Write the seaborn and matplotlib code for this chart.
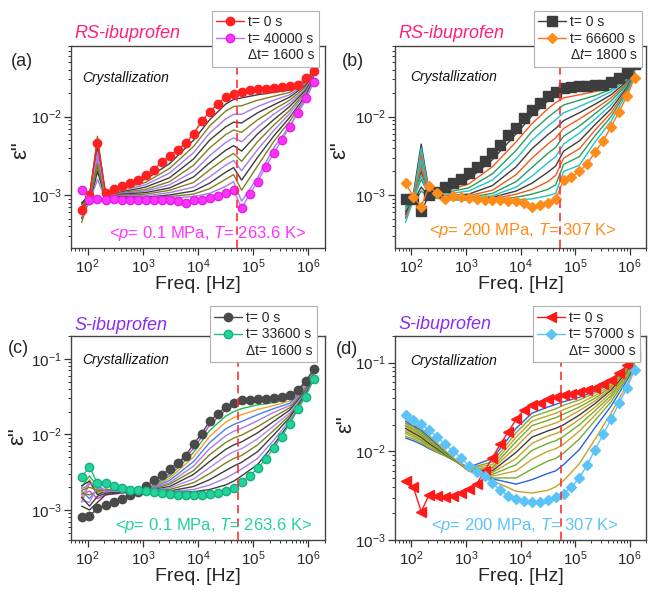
import numpy as np
import pandas as pd
import seaborn as sns
import matplotlib.pyplot as plt
from matplotlib.lines import Line2D
from matplotlib.ticker import LogLocator, NullFormatter

# Set aesthetic style
sns.set_theme(style="ticks")
plt.rcParams['font.family'] = ['Liberation Sans', 'DejaVu Sans']
plt.rcParams['mathtext.fontset'] = 'custom'
plt.rcParams['mathtext.rm'] = 'Liberation Sans'
plt.rcParams['mathtext.it'] = 'Liberation Sans:italic'
plt.rcParams['mathtext.bf'] = 'Liberation Sans:bold'

# ---- Data (eps'' stored as log10 values) ----
freq = [78, 108, 151, 211, 295, 412, 575, 804, 1120, 1570, 2190, 3060, 4270, 5960, 8320,
        11600, 16200, 22600, 31600, 44200, 61700, 86100, 120000, 168000, 234000, 327000,
        457000, 638000, 891000, 1240000]
freq_mid = [78, 108, 151, 211, 412, 1120, 3060, 8320, 16200, 31600, 44200, 61700,
            120000, 234000, 457000, 891000, 1240000]

# (a) RS-ibuprofen, 0.1 MPa
a_start = [-3.19, -3.00, -2.33, -2.97, -2.93, -2.88, -2.85, -2.81, -2.74, -2.68, -2.58, -2.50,
           -2.42, -2.34, -2.22, -2.06, -1.94, -1.84, -1.75, -1.71, -1.68, -1.66, -1.65, -1.64,
           -1.63, -1.62, -1.61, -1.59, -1.51, -1.42]
a_end = [-2.94, -3.06, -3.05, -3.06, -3.05, -3.06, -3.07, -3.07, -3.07, -3.07, -3.07, -3.07,
         -3.08, -3.10, -3.07, -3.06, -3.04, -3.01, -2.98, -2.94, -3.17, -2.99, -2.83, -2.64,
         -2.47, -2.30, -2.13, -1.95, -1.76, -1.56]
a_mid = [
    [-3.10, -3.00, -2.40, -2.98, -2.90, -2.80, -2.60, -2.30, -2.04, -1.84, -1.78, -1.76, -1.72, -1.69, -1.66, -1.55, -1.44],
    [-3.15, -3.02, -2.30, -2.99, -2.92, -2.84, -2.66, -2.38, -2.12, -1.93, -1.87, -1.86, -1.79, -1.74, -1.69, -1.57, -1.45],
    [-3.20, -3.05, -2.50, -3.00, -2.94, -2.87, -2.72, -2.46, -2.21, -2.03, -1.97, -1.97, -1.87, -1.79, -1.72, -1.58, -1.46],
    [-3.12, -2.98, -2.60, -3.01, -2.96, -2.90, -2.78, -2.54, -2.30, -2.13, -2.07, -2.08, -1.95, -1.85, -1.75, -1.60, -1.47],
    [-3.25, -3.04, -2.25, -3.02, -2.97, -2.93, -2.83, -2.62, -2.40, -2.23, -2.17, -2.20, -2.04, -1.91, -1.79, -1.62, -1.48],
    [-3.18, -3.10, -2.55, -3.03, -2.98, -2.95, -2.87, -2.70, -2.50, -2.33, -2.27, -2.32, -2.13, -1.97, -1.83, -1.64, -1.49],
    [-3.30, -3.06, -2.35, -3.04, -2.99, -2.97, -2.91, -2.77, -2.59, -2.43, -2.37, -2.44, -2.22, -2.04, -1.87, -1.66, -1.50],
    [-3.22, -3.02, -2.65, -3.04, -3.00, -2.99, -2.94, -2.84, -2.68, -2.53, -2.47, -2.57, -2.32, -2.11, -1.92, -1.68, -1.51],
    [-3.28, -3.08, -2.45, -3.05, -3.01, -3.01, -2.97, -2.90, -2.77, -2.62, -2.56, -2.69, -2.42, -2.18, -1.96, -1.70, -1.52],
    [-3.15, -3.12, -2.70, -3.05, -3.02, -3.03, -3.00, -2.95, -2.85, -2.71, -2.65, -2.81, -2.52, -2.25, -2.01, -1.73, -1.53],
    [-3.35, -3.04, -2.60, -3.06, -3.03, -3.04, -3.02, -2.99, -2.92, -2.80, -2.74, -2.94, -2.63, -2.32, -2.06, -1.76, -1.55],
    [-3.20, -3.10, -2.80, -3.06, -3.04, -3.05, -3.04, -3.02, -2.98, -2.89, -2.83, -3.08, -2.78, -2.40, -2.12, -1.79, -1.56],
]

# (b) RS-ibuprofen, 200 MPa
b_start = [-3.05, -3.05, -3.21, -3.00, -2.96, -2.90, -2.85, -2.79, -2.72, -2.64, -2.56, -2.46,
           -2.36, -2.24, -2.15, -2.02, -1.91, -1.82, -1.74, -1.68, -1.63, -1.62, -1.61, -1.61,
           -1.60, -1.59, -1.56, -1.50, -1.44, -1.33]
b_end = [-2.85, -3.02, -3.15, -2.89, -2.98, -3.05, -3.01, -3.03, -3.04, -3.05, -3.06, -3.06,
         -3.07, -3.08, -3.08, -3.10, -3.15, -3.13, -3.10, -3.05, -2.81, -2.77, -2.70, -2.60,
         -2.45, -2.31, -2.13, -1.94, -1.74, -1.50]
b_mid = [
    [-3.05, -3.00, -2.35, -2.95, -2.92, -2.80, -2.55, -2.22, -1.99, -1.80, -1.72, -1.68, -1.66, -1.64, -1.59, -1.47, -1.36],
    [-3.10, -3.02, -2.45, -2.97, -2.95, -2.86, -2.64, -2.32, -2.09, -1.90, -1.82, -1.76, -1.72, -1.68, -1.62, -1.49, -1.37],
    [-3.20, -3.05, -2.60, -2.98, -2.97, -2.91, -2.73, -2.43, -2.19, -2.01, -1.93, -1.85, -1.79, -1.73, -1.65, -1.51, -1.38],
    [-3.15, -3.08, -2.40, -2.99, -2.99, -2.95, -2.81, -2.54, -2.30, -2.12, -2.04, -1.95, -1.87, -1.78, -1.68, -1.53, -1.39],
    [-3.25, -3.03, -2.70, -3.00, -3.01, -2.99, -2.88, -2.64, -2.41, -2.23, -2.15, -2.05, -1.95, -1.84, -1.72, -1.55, -1.40],
    [-3.12, -3.10, -2.50, -3.00, -3.02, -3.01, -2.94, -2.74, -2.53, -2.35, -2.27, -2.15, -2.03, -1.90, -1.76, -1.57, -1.41],
    [-3.30, -3.06, -2.80, -3.01, -3.03, -3.03, -2.98, -2.83, -2.65, -2.47, -2.39, -2.25, -2.12, -1.96, -1.80, -1.59, -1.42],
    [-3.18, -3.04, -2.55, -3.01, -3.04, -3.05, -3.01, -2.90, -2.76, -2.59, -2.51, -2.35, -2.21, -2.03, -1.85, -1.61, -1.43],
    [-3.22, -3.09, -2.90, -3.02, -3.04, -3.06, -3.03, -2.95, -2.85, -2.71, -2.63, -2.44, -2.31, -2.10, -1.90, -1.63, -1.44],
    [-3.28, -3.05, -2.65, -3.02, -3.05, -3.06, -3.05, -2.99, -2.93, -2.83, -2.75, -2.53, -2.41, -2.17, -1.95, -1.65, -1.45],
    [-3.15, -3.11, -2.95, -3.03, -3.05, -3.07, -3.06, -3.03, -2.99, -2.93, -2.87, -2.61, -2.51, -2.24, -2.00, -1.67, -1.46],
    [-3.35, -3.07, -2.75, -3.03, -3.06, -3.07, -3.07, -3.06, -3.05, -3.01, -2.98, -2.70, -2.62, -2.32, -2.06, -1.70, -1.48],
]

# (c) S-ibuprofen, 0.1 MPa
c_start = [-3.10, -3.08, -2.98, -2.94, -2.90, -2.85, -2.80, -2.76, -2.69, -2.61, -2.54, -2.46,
           -2.38, -2.28, -2.13, -1.99, -1.83, -1.73, -1.64, -1.58, -1.55, -1.54, -1.53, -1.53,
           -1.52, -1.51, -1.48, -1.41, -1.30, -1.14]
c_end = [-2.56, -2.43, -2.65, -2.65, -2.68, -2.71, -2.73, -2.74, -2.75, -2.76, -2.78, -2.79,
         -2.80, -2.80, -2.80, -2.80, -2.79, -2.77, -2.75, -2.71, -2.63, -2.55, -2.45, -2.33,
         -2.18, -2.03, -1.86, -1.66, -1.50, -1.27]
c_mid = [
    [-2.80, -2.75, -2.85, -2.80, -2.78, -2.74, -2.52, -2.19, -1.88, -1.68, -1.62, -1.59, -1.56, -1.54, -1.50, -1.33, -1.16],
    [-2.70, -2.55, -2.70, -2.75, -2.77, -2.74, -2.55, -2.24, -1.95, -1.76, -1.70, -1.66, -1.61, -1.58, -1.53, -1.35, -1.17],
    [-2.85, -2.60, -2.78, -2.72, -2.76, -2.74, -2.58, -2.30, -2.03, -1.84, -1.78, -1.74, -1.67, -1.62, -1.56, -1.36, -1.18],
    [-2.75, -2.85, -2.72, -2.74, -2.75, -2.74, -2.61, -2.36, -2.11, -1.93, -1.87, -1.83, -1.74, -1.66, -1.59, -1.38, -1.19],
    [-2.90, -2.65, -2.68, -2.76, -2.76, -2.74, -2.64, -2.42, -2.19, -2.02, -1.96, -1.92, -1.82, -1.71, -1.62, -1.40, -1.20],
    [-2.78, -2.80, -2.76, -2.73, -2.75, -2.75, -2.66, -2.48, -2.27, -2.11, -2.05, -2.01, -1.90, -1.77, -1.65, -1.41, -1.21],
    [-2.68, -2.62, -2.80, -2.75, -2.76, -2.75, -2.69, -2.53, -2.36, -2.20, -2.14, -2.10, -1.98, -1.83, -1.68, -1.43, -1.22],
    [-2.88, -2.90, -2.70, -2.77, -2.76, -2.75, -2.71, -2.59, -2.44, -2.29, -2.23, -2.19, -2.06, -1.89, -1.72, -1.44, -1.23],
    [-2.74, -2.70, -2.74, -2.74, -2.75, -2.75, -2.73, -2.64, -2.52, -2.38, -2.32, -2.28, -2.14, -1.95, -1.75, -1.46, -1.24],
    [-2.83, -2.95, -2.82, -2.78, -2.76, -2.75, -2.75, -2.69, -2.60, -2.48, -2.42, -2.37, -2.23, -2.01, -1.78, -1.47, -1.25],
    [-2.72, -2.66, -2.66, -2.75, -2.76, -2.75, -2.76, -2.73, -2.67, -2.58, -2.52, -2.46, -2.32, -2.08, -1.82, -1.48, -1.26],
    [-2.95, -3.00, -2.90, -2.80, -2.77, -2.75, -2.77, -2.76, -2.73, -2.67, -2.62, -2.55, -2.40, -2.14, -1.85, -1.49, -1.27],
]

# (d) S-ibuprofen, 200 MPa
d_start = [-2.34, -2.40, -2.68, -2.49, -2.50, -2.51, -2.50, -2.47, -2.42, -2.37, -2.22, -2.07,
           -1.92, -1.78, -1.64, -1.53, -1.48, -1.45, -1.41, -1.39, -1.37, -1.35, -1.33, -1.31,
           -1.28, -1.24, -1.19, -1.12, -1.03, -0.92]
d_end = [-1.59, -1.65, -1.69, -1.76, -1.84, -1.92, -2.00, -2.07, -2.16, -2.23, -2.28, -2.36,
         -2.44, -2.50, -2.54, -2.56, -2.57, -2.57, -2.55, -2.52, -2.48, -2.40, -2.30, -2.15,
         -1.98, -1.81, -1.64, -1.46, -1.29, -1.08]
d_mid = [
    [-1.85, -1.88, -1.92, -1.97, -2.05, -2.18, -2.08, -1.74, -1.57, -1.50, -1.47, -1.44, -1.39, -1.32, -1.22, -1.06, -0.94],
    [-1.83, -1.86, -1.90, -1.96, -2.05, -2.19, -2.12, -1.79, -1.61, -1.55, -1.52, -1.48, -1.42, -1.34, -1.23, -1.07, -0.95],
    [-1.80, -1.84, -1.88, -1.95, -2.04, -2.19, -2.15, -1.84, -1.66, -1.60, -1.57, -1.53, -1.46, -1.37, -1.25, -1.08, -0.95],
    [-1.78, -1.82, -1.87, -1.93, -2.04, -2.20, -2.18, -1.89, -1.71, -1.65, -1.62, -1.58, -1.50, -1.40, -1.27, -1.09, -0.96],
    [-1.76, -1.80, -1.85, -1.92, -2.03, -2.20, -2.20, -1.95, -1.77, -1.71, -1.68, -1.64, -1.54, -1.43, -1.29, -1.10, -0.96],
    [-1.74, -1.79, -1.84, -1.91, -2.03, -2.21, -2.22, -2.01, -1.84, -1.77, -1.74, -1.70, -1.59, -1.46, -1.31, -1.11, -0.97],
    [-1.72, -1.77, -1.82, -1.89, -2.02, -2.21, -2.24, -2.08, -1.91, -1.83, -1.80, -1.76, -1.64, -1.50, -1.34, -1.12, -0.98],
    [-1.71, -1.75, -1.81, -1.88, -2.02, -2.22, -2.26, -2.15, -1.99, -1.91, -1.88, -1.83, -1.70, -1.54, -1.37, -1.13, -0.99],
    [-1.69, -1.74, -1.79, -1.87, -2.01, -2.22, -2.28, -2.22, -2.09, -2.00, -1.97, -1.92, -1.77, -1.59, -1.40, -1.15, -1.00],
    [-1.68, -1.72, -1.78, -1.86, -2.01, -2.22, -2.30, -2.30, -2.20, -2.11, -2.08, -2.02, -1.86, -1.65, -1.44, -1.17, -1.02],
    [-1.66, -1.71, -1.76, -1.84, -2.00, -2.22, -2.31, -2.37, -2.32, -2.25, -2.22, -2.15, -1.98, -1.73, -1.49, -1.20, -1.04],
    [-1.64, -1.69, -1.74, -1.82, -1.99, -2.22, -2.33, -2.45, -2.47, -2.44, -2.40, -2.33, -2.14, -1.86, -1.57, -1.25, -1.06],
]

dash_freq = {'a': 5.1e4, 'b': 5.2e4, 'c': 5.3e4, 'd': 5.5e4}

# ---- Styles ----
GRAY, OLIVE, VIOLET = '#3d3d3d', '#80801f', '#a77bea'
a_colors = [GRAY, OLIVE, VIOLET] * 4
b_colors = [GRAY, '#f05a1e', '#2a9d5c', '#1fc4c9'] * 3
c_colors = ['#e03ce0', '#1fbf4f', '#f0a030', '#4a7ff0', VIOLET, OLIVE,
            GRAY, '#b088f0', OLIVE, GRAY, VIOLET, GRAY]
d_colors = ['#2f5fe0', '#7fb030', '#c9a227', '#6fae2e', '#c9a227', GRAY,
            '#c9a227', '#6fae2e', '#c9a227', '#6fae2e', '#2b62e3', '#c9a227']

RS_COLOR = '#ff1f7a'
S_COLOR = '#8a2cf0'

panels = [
    dict(key='a', pos=[71 / 648, 1 - 248 / 595, 254 / 648, 202 / 595], ylim=(2.1e-4, 8e-2),
         start=a_start, end=a_end, mid=a_mid, colors=a_colors,
         s_style=dict(color='#ff2020', marker='o', ms=6, mec='#ff2020'),
         e_style=dict(color='#c070ff', marker='o', ms=6, mfc='#ff33ff', mec='#e020e0'),
         labels=['t= 0 s', 't= 40000 s', 'Δt= 1600 s'],
         title='RS-ibuprofen', tcolor=RS_COLOR,
         cond=r'<$\mathit{p}$= 0.1 MPa, $\mathit{T}$= 263.6 K>', ccolor='#ff33ff',
         cond_xy=(0.537, 0.074), cry_xy=(0.045, 0.84), tag_xy=(-0.193, 0.922),
         ylab_xy=(-0.157, 0.485), leg=(0.975, 1.175), title_y=1.064),
    dict(key='b', pos=[395 / 648, 1 - 248 / 595, 251 / 648, 202 / 595], ylim=(2.1e-4, 8e-2),
         start=b_start, end=b_end, mid=b_mid, colors=b_colors,
         s_style=dict(color='#3d3d3d', marker='s', ms=6.5, mec='#3d3d3d'),
         e_style=dict(color='#ff7020', marker='D', ms=5.5, mfc='#ff8c1a', mec='#ff8c1a'),
         labels=['t= 0 s', 't= 66600 s', r'Δ$\mathit{t}$= 1800 s'],
         title='RS-ibuprofen', tcolor=RS_COLOR,
         cond=r'<$\mathit{p}$= 200 MPa, $\mathit{T}$= 307 K>', ccolor='#ff8c1a',
         cond_xy=(0.511, 0.089), cry_xy=(0.06, 0.848), tag_xy=(-0.169, 0.922),
         ylab_xy=(-0.18, 0.485), leg=(0.985, 1.175), title_y=1.064),
    dict(key='c', pos=[71 / 648, 1 - 540 / 595, 254 / 648, 204 / 595], ylim=(4e-4, 0.2),
         start=c_start, end=c_end, mid=c_mid, colors=c_colors,
         s_style=dict(color='#4a4a4a', marker='o', ms=6, mec='#4a4a4a'),
         e_style=dict(color='#22c080', marker='o', ms=6, mfc='#22d39a', mec='#16b080'),
         labels=['t= 0 s', 't= 33600 s', 'Δt= 1600 s'],
         title='S-ibuprofen', tcolor=S_COLOR,
         cond=r'<$\mathit{p}$= 0.1 MPa, $\mathit{T}$= 263.6 K>', ccolor='#22d39a',
         cond_xy=(0.561, 0.073), cry_xy=(0.045, 0.88), tag_xy=(-0.205, 0.938),
         ylab_xy=(-0.17, 0.51), leg=(0.967, 1.145), title_y=1.052),
    dict(key='d', pos=[395 / 648, 1 - 540 / 595, 251 / 648, 204 / 595], ylim=(1e-3, 0.2),
         start=d_start, end=d_end, mid=d_mid, colors=d_colors,
         s_style=dict(color='#ff1a1a', marker='<', ms=7, mec='#ff1a1a'),
         e_style=dict(color='#5cc3f7', marker='D', ms=5.5, mfc='#5cc3f7', mec='#5cc3f7'),
         labels=['t= 0 s', 't= 57000 s', 'Δt= 3000 s'],
         title='S-ibuprofen', tcolor=S_COLOR,
         cond=r'<$\mathit{p}$= 200 MPa, $\mathit{T}$= 307 K>', ccolor='#5cc3f7',
         cond_xy=(0.518, 0.073), cry_xy=(0.062, 0.877), tag_xy=(-0.19, 0.933),
         ylab_xy=(-0.153, 0.57), leg=(0.975, 1.145), title_y=1.056),
]

fig = plt.figure(figsize=(6.48, 5.95), dpi=100)

for p in panels:
    ax = fig.add_axes(p['pos'])
    ax.set_xscale('log')
    ax.set_yscale('log')

    # intermediate spectra (long format for seaborn)
    rows = []
    for i, curve in enumerate(p['mid']):
        for f, v in zip(freq_mid, curve):
            rows.append({'freq': f, 'eps': 10 ** v, 'curve': f'c{i}'})
    mid_df = pd.DataFrame(rows)
    sns.lineplot(data=mid_df, x='freq', y='eps', hue='curve', palette=p['colors'],
                 estimator=None, sort=False, legend=False, lw=1.0, ax=ax, zorder=2)

    # first and last spectra
    h_start, = ax.plot(freq, 10 ** np.array(p['start']), lw=1.0, zorder=4, **p['s_style'])
    h_end, = ax.plot(freq, 10 ** np.array(p['end']), lw=1.0, zorder=4, **p['e_style'])

    ax.axvline(dash_freq[p['key']], color='#ff3030', ls=(0, (5, 3)), lw=1.2, zorder=5)

    ax.set_xlim(50, 2e6)
    ax.set_ylim(*p['ylim'])
    ax.xaxis.set_major_locator(LogLocator(base=10, numticks=10))
    ax.xaxis.set_minor_locator(LogLocator(base=10, subs=np.arange(2, 10), numticks=20))
    ax.xaxis.set_minor_formatter(NullFormatter())
    ax.yaxis.set_minor_locator(LogLocator(base=10, subs=np.arange(2, 10), numticks=20))
    ax.yaxis.set_minor_formatter(NullFormatter())
    ax.tick_params(which='major', direction='out', length=5, width=0.9, labelsize=11,
                   color='#333333', pad=2)
    ax.tick_params(which='minor', direction='out', length=2.5, width=0.7, color='#333333')
    for s in ax.spines.values():
        s.set_color('#444444')
        s.set_linewidth(1.0)

    ax.set_xlabel('Freq. [Hz]', fontsize=14, labelpad=0)
    ax.set_ylabel('ε"', fontsize=16)
    ax.yaxis.set_label_coords(*p['ylab_xy'])

    ax.text(0.015, p['title_y'], p['title'], transform=ax.transAxes, fontsize=13,
            style='italic', color=p['tcolor'], va='center', ha='left')
    ax.text(p['tag_xy'][0], p['tag_xy'][1], f"({p['key']})", transform=ax.transAxes,
            fontsize=13, ha='center', va='center')
    ax.text(p['cry_xy'][0], p['cry_xy'][1], 'Crystallization', transform=ax.transAxes,
            fontsize=10, style='italic', color='#111111', va='center', ha='left')
    ax.text(p['cond_xy'][0], p['cond_xy'][1], p['cond'], transform=ax.transAxes,
            fontsize=12, color=p['ccolor'], ha='center', va='center', zorder=6)

    blank = Line2D([], [], color='none')
    leg = ax.legend([h_start, h_end, blank], p['labels'], loc='upper right',
                    bbox_to_anchor=p['leg'], fontsize=10, frameon=True, fancybox=False,
                    edgecolor='#b0b0b0', framealpha=1, labelspacing=0.2, handlelength=2.0,
                    borderpad=0.3, handletextpad=0.3, borderaxespad=0)
    leg.get_frame().set_linewidth(0.8)
    leg.set_zorder(10)

fig.savefig('out.png', dpi=100)
print("Saved out.png")
